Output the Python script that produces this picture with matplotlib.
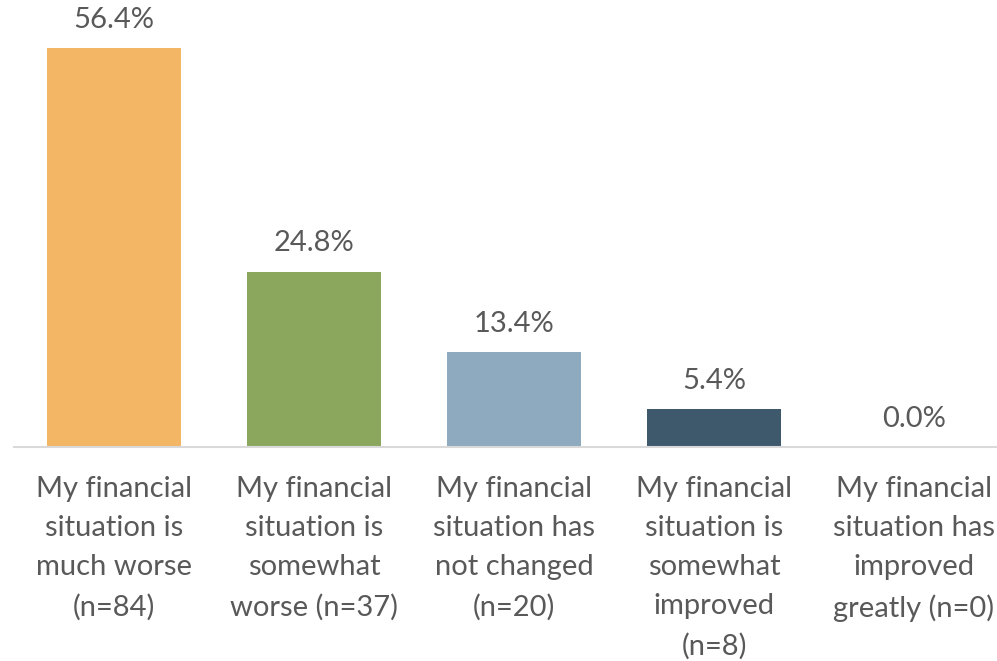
import matplotlib
matplotlib.use("Agg")
import matplotlib.pyplot as plt

categories = [
    "My financial\nsituation is\nmuch worse\n(n=84)",
    "My financial\nsituation is\nsomewhat\nworse (n=37)",
    "My financial\nsituation has\nnot changed\n(n=20)",
    "My financial\nsituation is\nsomewhat\nimproved\n(n=8)",
    "My financial\nsituation has\nimproved\ngreatly (n=0)",
]
values = [56.4, 24.8, 13.4, 5.4, 0.0]
colors = ["#F2B665", "#8BA75E", "#8DAABF", "#3E586C", "#A5A5A5"]

plt.rcParams["font.family"] = ["Lato", "DejaVu Sans"]
text_color = "#595959"

fig = plt.figure(figsize=(9.97, 6.61), dpi=100)
ax = fig.add_axes([14 / 997, 214 / 661, 1000 / 997, 424 / 661])

x = list(range(len(values)))
bars = ax.bar(x, values, width=0.67, color=colors)

for xi, v in zip(x, values):
    ax.annotate(f"{v:.1f}%", (xi, v), xytext=(0, 11), textcoords="offset points",
                ha="center", va="bottom", fontsize=21, color=text_color)

ax.set_xlim(-0.5, 4.5)
ax.set_ylim(0, 60)
ax.set_xticks(x)
ax.set_xticklabels(categories, fontsize=21, color=text_color, linespacing=1.62)
ax.tick_params(axis="x", length=0, pad=21)
ax.set_yticks([])
for side in ["top", "right", "left"]:
    ax.spines[side].set_visible(False)
ax.spines["bottom"].set_color("#D9D9D9")
ax.spines["bottom"].set_linewidth(1.5)

fig.savefig("out.png", dpi=100)
